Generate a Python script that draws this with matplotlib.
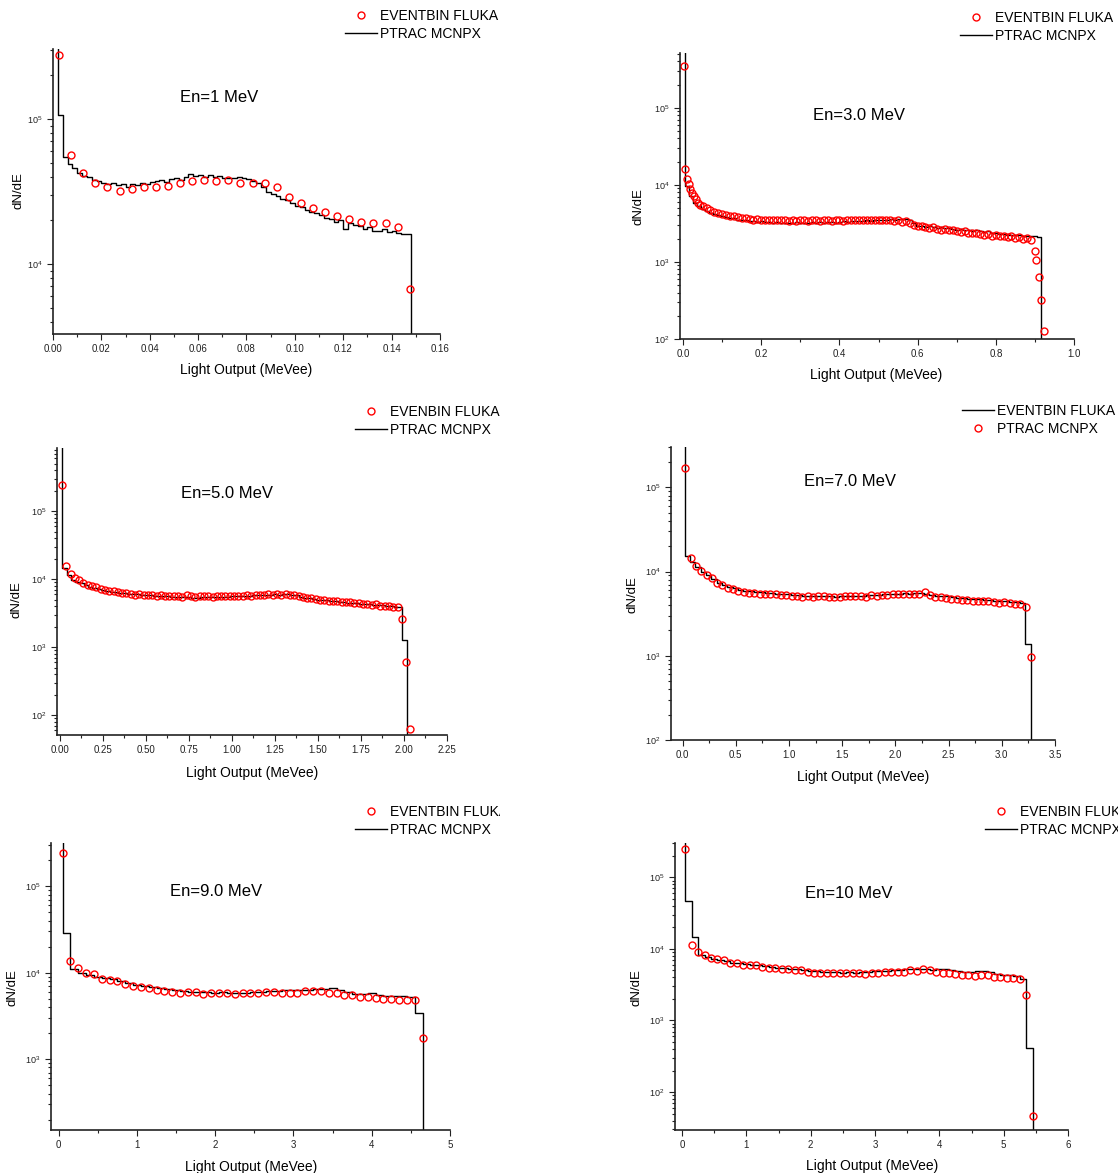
import numpy as np
import matplotlib
matplotlib.use('Agg')
import matplotlib.pyplot as plt
from matplotlib.ticker import MultipleLocator, LogLocator, FormatStrFormatter, LogFormatterSciNotation
from matplotlib.transforms import Bbox, TransformedBbox

plt.rcParams['font.family'] = ['Liberation Sans', 'DejaVu Sans']
plt.rcParams['mathtext.default'] = 'regular'

# ---------------- data (dN/dE given as log10 values) ----------------
# En = 1 MeV
e1_fluka_x = 0.0025 + 0.005 * np.arange(30)
e1_fluka_log = [5.443, 4.754, 4.630, 4.561, 4.533, 4.506, 4.519, 4.533, 4.533, 4.540,
                4.561, 4.574, 4.581, 4.574, 4.581, 4.561, 4.561, 4.561, 4.533, 4.464,
                4.423, 4.388, 4.361, 4.333, 4.312, 4.292, 4.285, 4.285, 4.257, 3.830]
e1_mcnpx_start, e1_mcnpx_width = 0.0, 0.002
e1_mcnpx_log = [5.8, 5.03, 4.74, 4.69, 4.66, 4.63, 4.61, 4.60, 4.58, 4.57,
                4.56, 4.555, 4.56, 4.545, 4.55, 4.53, 4.555, 4.545, 4.56, 4.55,
                4.565, 4.57, 4.58, 4.565, 4.585, 4.595, 4.58, 4.60, 4.62, 4.61,
                4.615, 4.60, 4.615, 4.60, 4.605, 4.595, 4.59, 4.595, 4.60, 4.59,
                4.585, 4.575, 4.56, 4.53, 4.50, 4.48, 4.47, 4.45, 4.44, 4.42,
                4.40, 4.39, 4.375, 4.36, 4.35, 4.335, 4.32, 4.31, 4.29, 4.30,
                4.24, 4.285, 4.27, 4.26, 4.24, 4.255, 4.23, 4.225, 4.24, 4.22,
                4.23, 4.215, 4.21, 4.21]

# En = 3.0 MeV
e3_fluka_x = np.concatenate([[0.003, 0.006, 0.010, 0.014, 0.018, 0.022, 0.027, 0.032, 0.038, 0.044, 0.050],
                             np.round(np.arange(0.06, 0.895, 0.01), 2),
                             [0.899, 0.904, 0.911, 0.916, 0.923]])
e3_fluka_log = [5.54, 4.20, 4.08, 4.01, 3.95, 3.90, 3.85, 3.81, 3.77, 3.74, 3.72,
                3.70, 3.67, 3.65, 3.64, 3.62, 3.61, 3.60, 3.59, 3.58, 3.57,
                3.575, 3.56, 3.55, 3.56, 3.55, 3.54, 3.55, 3.54, 3.545, 3.54,
                3.55, 3.53, 3.54, 3.53, 3.545, 3.54, 3.53, 3.545, 3.54, 3.53,
                3.545, 3.54, 3.53, 3.545, 3.54, 3.535, 3.545, 3.55, 3.54, 3.55,
                3.545, 3.54, 3.55, 3.545, 3.54, 3.55, 3.54, 3.545, 3.53, 3.54,
                3.52, 3.53, 3.50, 3.48, 3.46, 3.47, 3.45, 3.44, 3.45, 3.43,
                3.42, 3.43, 3.41, 3.42, 3.40, 3.39, 3.40, 3.38, 3.37, 3.375,
                3.36, 3.35, 3.36, 3.34, 3.35, 3.33, 3.34, 3.32, 3.33, 3.31,
                3.32, 3.30, 3.31, 3.29,
                3.14, 3.02, 2.81, 2.50, 2.11]
e3_mcnpx_start, e3_mcnpx_width = -0.004, 0.01
e3_mcnpx_log = [6.0, 3.98, 3.85, 3.77, 3.72, 3.69, 3.66, 3.64, 3.62, 3.605,
                3.59, 3.58, 3.57, 3.565, 3.55, 3.545, 3.54, 3.53, 3.535, 3.52,
                3.525, 3.515, 3.52, 3.51, 3.515, 3.505, 3.51, 3.50, 3.51, 3.515,
                3.505, 3.51, 3.50, 3.515, 3.51, 3.52, 3.51, 3.515, 3.52, 3.51,
                3.52, 3.525, 3.52, 3.53, 3.525, 3.535, 3.53, 3.54, 3.535, 3.545,
                3.54, 3.55, 3.545, 3.56, 3.55, 3.56, 3.555, 3.56, 3.55, 3.50,
                3.46, 3.47, 3.455, 3.46, 3.45, 3.44, 3.45, 3.435, 3.44, 3.43,
                3.42, 3.425, 3.41, 3.415, 3.40, 3.41, 3.395, 3.39, 3.395, 3.38,
                3.37, 3.36, 3.365, 3.35, 3.355, 3.345, 3.35, 3.34, 3.34, 3.33,
                3.33, 3.32]

# En = 5.0 MeV
e5_fluka_x = 0.0125 + 0.025 * np.arange(82)
e5_fluka_log = [5.38, 4.20, 4.08, 4.02, 3.98, 3.95, 3.92, 3.90, 3.88, 3.86,
                3.84, 3.83, 3.82, 3.81, 3.80, 3.79, 3.78, 3.77, 3.785, 3.77,
                3.765, 3.76, 3.755, 3.76, 3.75, 3.755, 3.75, 3.745, 3.74, 3.76,
                3.745, 3.735, 3.75, 3.745, 3.75, 3.74, 3.745, 3.75, 3.745, 3.75,
                3.755, 3.75, 3.755, 3.76, 3.755, 3.765, 3.76, 3.77, 3.775, 3.77,
                3.775, 3.77, 3.775, 3.77, 3.765, 3.75, 3.735, 3.725, 3.715, 3.71,
                3.70, 3.69, 3.685, 3.675, 3.68, 3.665, 3.66, 3.665, 3.655, 3.65,
                3.635, 3.64, 3.625, 3.63, 3.61, 3.605, 3.60, 3.595, 3.585, 3.42,
                2.78, 1.80]
e5_mcnpx_start, e5_mcnpx_width = -0.01, 0.025
e5_mcnpx_log = [6.5, 4.16, 4.06, 3.99, 3.96, 3.94, 3.91, 3.89, 3.87, 3.855,
                3.84, 3.83, 3.815, 3.81, 3.80, 3.79, 3.785, 3.78, 3.775, 3.77,
                3.765, 3.76, 3.755, 3.75, 3.745, 3.745, 3.74, 3.74, 3.735, 3.735,
                3.73, 3.725, 3.725, 3.73, 3.73, 3.73, 3.735, 3.735, 3.74, 3.735,
                3.745, 3.745, 3.75, 3.75, 3.755, 3.76, 3.76, 3.765, 3.77, 3.77,
                3.775, 3.77, 3.775, 3.775, 3.77, 3.76, 3.74, 3.725, 3.715, 3.71,
                3.70, 3.695, 3.69, 3.68, 3.675, 3.665, 3.66, 3.655, 3.65, 3.645,
                3.64, 3.635, 3.63, 3.625, 3.62, 3.615, 3.61, 3.60, 3.595, 3.59,
                3.11]

# En = 7.0 MeV
e7_fluka_x = 0.025 + 0.05 * np.arange(66)
e7_fluka_log = [5.23, 4.16, 4.07, 4.01, 3.96, 3.92, 3.87, 3.84, 3.81, 3.79,
                3.77, 3.755, 3.75, 3.745, 3.74, 3.735, 3.73, 3.735, 3.725, 3.72,
                3.71, 3.705, 3.70, 3.705, 3.70, 3.705, 3.71, 3.70, 3.695, 3.70,
                3.705, 3.71, 3.715, 3.71, 3.70, 3.72, 3.715, 3.72, 3.725, 3.73,
                3.735, 3.73, 3.74, 3.735, 3.73, 3.755, 3.72, 3.70, 3.695, 3.69,
                3.675, 3.67, 3.665, 3.66, 3.655, 3.65, 3.655, 3.645, 3.64, 3.63,
                3.635, 3.625, 3.62, 3.615, 3.58, 2.99]
e7_mcnpx_start, e7_mcnpx_width = -0.03, 0.05
e7_mcnpx_log = [6.0, 4.19, 4.12, 4.05, 4.00, 3.96, 3.91, 3.87, 3.84, 3.815,
                3.80, 3.785, 3.77, 3.765, 3.76, 3.755, 3.75, 3.745, 3.74, 3.735,
                3.73, 3.725, 3.72, 3.715, 3.715, 3.71, 3.715, 3.71, 3.705, 3.70,
                3.705, 3.71, 3.71, 3.715, 3.715, 3.72, 3.72, 3.725, 3.73, 3.735,
                3.735, 3.74, 3.745, 3.74, 3.745, 3.745, 3.735, 3.72, 3.715, 3.715,
                3.71, 3.70, 3.69, 3.685, 3.68, 3.675, 3.67, 3.665, 3.66, 3.655,
                3.65, 3.645, 3.64, 3.635, 3.625, 3.14]

# En = 9.0 MeV
e9_fluka_x = 0.05 + 0.1 * np.arange(47)
e9_fluka_log = [5.39, 4.13, 4.05, 4.00, 3.98, 3.93, 3.92, 3.90, 3.87, 3.85,
                3.83, 3.82, 3.80, 3.79, 3.78, 3.77, 3.78, 3.78, 3.75, 3.77,
                3.76, 3.76, 3.75, 3.76, 3.77, 3.77, 3.78, 3.78, 3.77, 3.77,
                3.77, 3.79, 3.79, 3.79, 3.77, 3.76, 3.74, 3.74, 3.72, 3.72,
                3.71, 3.70, 3.70, 3.68, 3.68, 3.68, 3.24]
e9_mcnpx_start, e9_mcnpx_width = -0.05, 0.1
e9_mcnpx_log = [6.0, 4.46, 4.04, 4.00, 3.97, 3.955, 3.94, 3.925, 3.90, 3.88,
                3.86, 3.85, 3.84, 3.82, 3.81, 3.80, 3.79, 3.78, 3.775, 3.775,
                3.77, 3.775, 3.77, 3.765, 3.77, 3.775, 3.78, 3.785, 3.79, 3.795,
                3.805, 3.80, 3.805, 3.81, 3.815, 3.82, 3.795, 3.78, 3.75, 3.75,
                3.765, 3.745, 3.735, 3.73, 3.725, 3.715, 3.53]

# En = 10 MeV
e10_fluka_x = 0.05 + 0.1 * np.arange(55)
e10_fluka_log = [5.40, 4.06, 3.96, 3.92, 3.88, 3.86, 3.84, 3.80, 3.81, 3.78,
                 3.77, 3.78, 3.75, 3.73, 3.74, 3.72, 3.72, 3.71, 3.71, 3.68,
                 3.67, 3.67, 3.67, 3.66, 3.66, 3.66, 3.67, 3.66, 3.65, 3.66,
                 3.67, 3.68, 3.68, 3.68, 3.68, 3.70, 3.69, 3.72, 3.71, 3.68,
                 3.67, 3.66, 3.65, 3.64, 3.63, 3.62, 3.63, 3.63, 3.61, 3.61,
                 3.60, 3.59, 3.58, 3.36, 1.67]
e10_mcnpx_start, e10_mcnpx_width = -0.05, 0.1
e10_mcnpx_log = [6.0, 4.67, 4.16, 3.92, 3.89, 3.865, 3.845, 3.83, 3.81, 3.80,
                 3.79, 3.78, 3.77, 3.76, 3.75, 3.74, 3.73, 3.72, 3.715, 3.70,
                 3.69, 3.685, 3.68, 3.675, 3.675, 3.67, 3.675, 3.67, 3.675, 3.68,
                 3.685, 3.69, 3.695, 3.70, 3.705, 3.72, 3.725, 3.72, 3.715, 3.71,
                 3.715, 3.725, 3.71, 3.69, 3.675, 3.68, 3.685, 3.685, 3.68, 3.65,
                 3.64, 3.63, 3.62, 3.58, 2.61]

# ---------------- figure ----------------
W, H = 1118, 1173
fig = plt.figure(figsize=(W / 100, H / 100), dpi=100)


def fxy(x, y):
    return x / W, 1 - y / H


def draw(rect, fl_x, fl_log, mc_start, mc_width, mc_log, xlim, ylog, major, fmt,
         title, title_xy, ylab_xy, xlab_xy, leg_xy, labels, line_first=False, clip_x=None):
    x0, y0, x1, y1 = rect
    ax = fig.add_axes([x0 / W, 1 - y1 / H, (x1 - x0) / W, (y1 - y0) / H])
    ax.set_facecolor('none')

    vals = 10 ** np.asarray(mc_log)
    edges = mc_start + mc_width * np.arange(len(vals) + 1)
    sx = np.concatenate([edges, [edges[-1]]])
    sy = np.concatenate([vals, [vals[-1], 1e-3]])
    ln, = ax.step(sx, sy, where='post', color='black', lw=1.0)
    pt, = ax.plot(fl_x, 10 ** np.asarray(fl_log), 'o', mfc='none', mec='#ff0000',
                  ms=5, mew=1.0, ls='none')

    ax.set_yscale('log')
    ax.set_xlim(*xlim)
    ax.set_ylim(10 ** ylog[0], 10 ** ylog[1])
    for s in ('top', 'right'):
        ax.spines[s].set_visible(False)
    for s in ('left', 'bottom'):
        ax.spines[s].set_linewidth(1.2)
        ax.spines[s].set_color('#222222')
    ax.xaxis.set_major_locator(MultipleLocator(major))
    ax.xaxis.set_minor_locator(MultipleLocator(major / 2))
    ax.xaxis.set_major_formatter(FormatStrFormatter(fmt))
    ax.yaxis.set_major_locator(LogLocator(base=10, numticks=10))
    ax.yaxis.set_minor_locator(LogLocator(base=10, subs=np.arange(2, 10), numticks=20))
    ax.yaxis.set_major_formatter(LogFormatterSciNotation())
    ax.tick_params(which='both', direction='out', labelsize=6.5, colors='#222222', width=0.8)
    ax.tick_params(which='major', length=4)
    ax.tick_params(which='minor', length=2.5)
    ax.tick_params(axis='x', labelsize=7)

    fig.text(*fxy(*title_xy), title, fontsize=12, ha='center', va='center')
    fig.text(*fxy(*ylab_xy), 'dN/dE', fontsize=9.5, rotation=90, ha='center', va='center')
    fig.text(*fxy(*xlab_xy), 'Light Output (MeVee)', fontsize=10, ha='center', va='center')

    handles = [ln, pt] if line_first else [pt, ln]
    leg = ax.legend(handles, labels, loc='upper left', bbox_to_anchor=fxy(*leg_xy),
                    bbox_transform=fig.transFigure, frameon=False, fontsize=10,
                    borderpad=0, borderaxespad=0, handlelength=2.3, handletextpad=0.25,
                    labelspacing=0.3)
    if clip_x is not None:
        cb = TransformedBbox(Bbox.from_extents(0, 0, clip_x / W, 1), fig.transFigure)
        for t in leg.get_texts():
            t.set_clip_on(True)
            t.set_clip_box(cb)
    return ax


draw((53, 49, 440, 334), e1_fluka_x, e1_fluka_log, e1_mcnpx_start, e1_mcnpx_width, e1_mcnpx_log,
     (0.0, 0.16), (3.517, 5.483), 0.02, '%.2f', 'En=1 MeV', (219, 97), (18, 191), (246, 370),
     (345, 9), ['EVENTBIN FLUKA', 'PTRAC MCNPX'])
draw((680, 53, 1074, 339), e3_fluka_x, e3_fluka_log, e3_mcnpx_start, e3_mcnpx_width, e3_mcnpx_log,
     (-0.008, 1.0), (2.0, 5.71), 0.2, '%.1f', 'En=3.0 MeV', (859, 116), (638, 207), (876, 375),
     (960, 11), ['EVENTBIN FLUKA', 'PTRAC MCNPX'])
draw((57, 448, 447, 735), e5_fluka_x, e5_fluka_log, e5_mcnpx_start, e5_mcnpx_width, e5_mcnpx_log,
     (-0.016, 2.25), (1.706, 5.93), 0.25, '%.2f', 'En=5.0 MeV', (227, 493), (16, 600), (252, 773),
     (355, 405), ['EVENBIN FLUKA', 'PTRAC MCNPX'])
draw((671, 447, 1055, 740), e7_fluka_x, e7_fluka_log, e7_mcnpx_start, e7_mcnpx_width, e7_mcnpx_log,
     (-0.109, 3.5), (2.0, 5.48), 0.5, '%.1f', 'En=7.0 MeV', (850, 481), (633, 595), (863, 777),
     (962, 404), ['EVENTBIN FLUKA', 'PTRAC MCNPX'], line_first=True)
draw((51, 843, 450, 1130), e9_fluka_x, e9_fluka_log, e9_mcnpx_start, e9_mcnpx_width, e9_mcnpx_log,
     (-0.098, 5.0), (2.18, 5.50), 1, '%d', 'En=9.0 MeV', (216, 892), (13, 988), (251, 1167),
     (355, 805), ['EVENTBIN FLUKA', 'PTRAC MCNPX'], clip_x=500)
draw((675, 843, 1068, 1130), e10_fluka_x, e10_fluka_log, e10_mcnpx_start, e10_mcnpx_width, e10_mcnpx_log,
     (-0.11, 6.0), (1.47, 5.48), 1, '%d', 'En=10 MeV', (849, 894), (637, 988), (872, 1166),
     (985, 805), ['EVENBIN FLUKA', 'PTRAC MCNPX'])

fig.savefig('out.png', dpi=100, facecolor='white')
